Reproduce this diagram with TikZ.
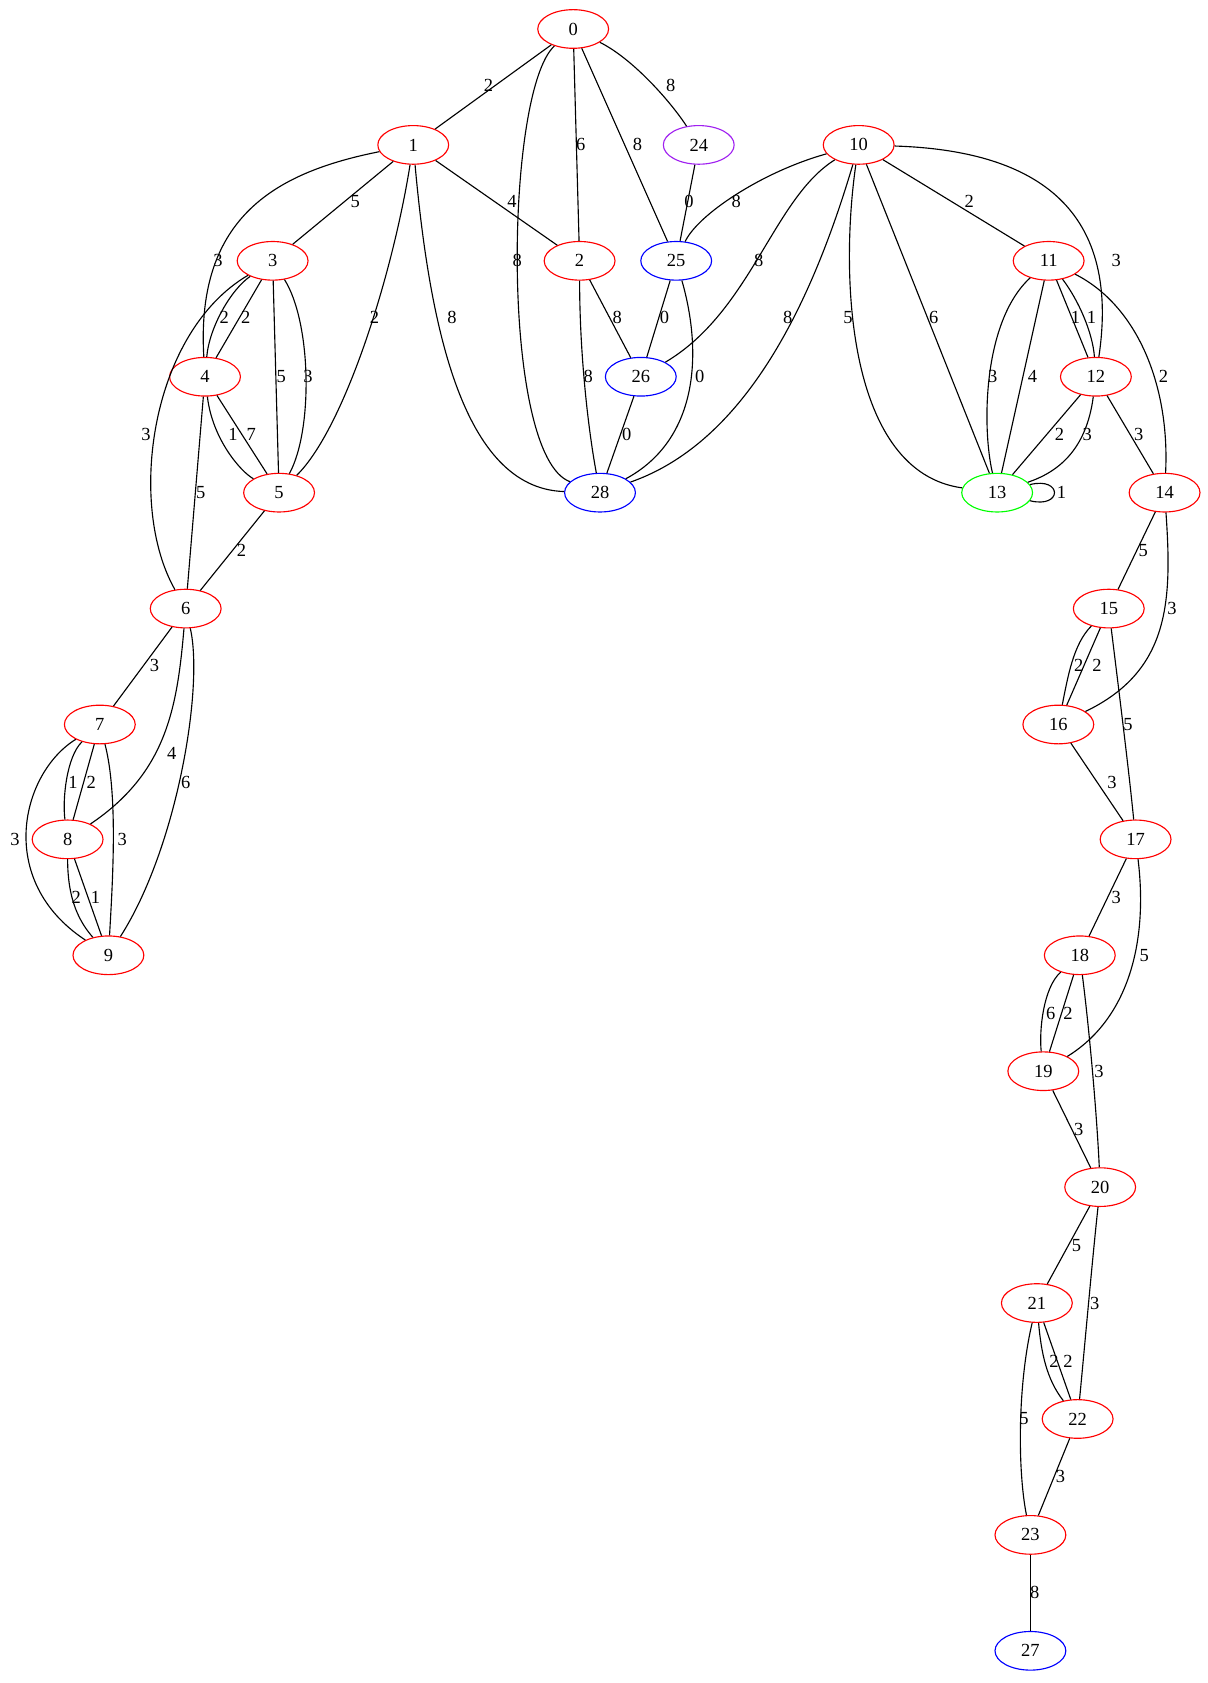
\documentclass[tikz,border=0pt]{standalone}
\usepackage{fontspec}
\setmainfont{Liberation Serif}
\usetikzlibrary{shapes.geometric}

\tikzset{
  gnode/.style={ellipse, draw=red, line width=0.6pt, minimum width=1.32cm, minimum height=0.72cm, inner sep=0pt, font=\fontsize{9.8}{11}\selectfont},
  elabel/.style={inner sep=0pt, font=\fontsize{9.8}{11}\selectfont},
  gedge/.style={line width=0.6pt}
}
\definecolor{gvpurple}{HTML}{A020F0}
\definecolor{gvgreen}{HTML}{00FF00}

\begin{document}
\begin{tikzpicture}[x=0.02cm, y=-0.02cm]
\useasboundingbox (0,0) rectangle (1125,1568);

% nodes
\node[gnode] (n0) at (534,27) {0};
\node[gnode] (n1) at (385,135) {1};
\node[gnode, draw=gvpurple] (n24) at (651,135) {24};
\node[gnode] (n10) at (800,135) {10};
\node[gnode] (n3) at (254,243) {3};
\node[gnode] (n2) at (540,243) {2};
\node[gnode, draw=blue] (n25) at (630,243) {25};
\node[gnode] (n11) at (977,243) {11};
\node[gnode] (n4) at (191,351) {4};
\node[gnode, draw=blue] (n26) at (597,351) {26};
\node[gnode] (n12) at (1021,351) {12};
\node[gnode] (n5) at (260,459) {5};
\node[gnode, draw=blue] (n28) at (559,459) {28};
\node[gnode, draw=gvgreen] (n13) at (929,459) {13};
\node[gnode] (n14) at (1085,459) {14};
\node[gnode] (n6) at (173,567) {6};
\node[gnode] (n15) at (1033,567) {15};
\node[gnode] (n7) at (93,675) {7};
\node[gnode] (n16) at (986,675) {16};
\node[gnode] (n8) at (63,782) {8};
\node[gnode] (n17) at (1058,782) {17};
\node[gnode] (n9) at (101,890) {9};
\node[gnode] (n18) at (1006,890) {18};
\node[gnode] (n19) at (972,998) {19};
\node[gnode] (n20) at (1025,1106) {20};
\node[gnode] (n21) at (966,1214) {21};
\node[gnode] (n22) at (1004,1322) {22};
\node[gnode] (n23) at (960,1430) {23};
\node[gnode, draw=blue] (n27) at (960,1538) {27};

% edges from 0 and 1
\draw[gedge] (n0) -- (n1) node[elabel] at (455,80) {2};
\draw[gedge] (n0) .. controls (470,85) and (466,425) .. (n28) node[elabel] at (482,243) {8};
\draw[gedge] (n0) -- (n2) node[elabel] at (541,135) {6};
\draw[gedge] (n0) -- (n25) node[elabel] at (594,135) {8};
\draw[gedge] (n0) .. controls (590,55) and (625,95) .. (n24) node[elabel] at (625,80) {8};
\draw[gedge] (n1) -- (n3) node[elabel] at (331,188) {5};
\draw[gedge] (n1) .. controls (260,160) and (182,200) .. (n4) node[elabel] at (203,243) {3};
\draw[gedge] (n1) -- (n2) node[elabel] at (477,188) {4};
\draw[gedge] (n1) .. controls (365,260) and (320,400) .. (n5) node[elabel] at (349,296) {2};
\draw[gedge] (n1) .. controls (400,300) and (430,455) .. (n28) node[elabel] at (421,296) {8};

% edges from 24, 10
\draw[gedge] (n24) -- (n25) node[elabel] at (642,188) {0};
\draw[gedge] (n10) .. controls (710,160) and (650,200) .. (n25) node[elabel] at (686,188) {8};
\draw[gedge] (n10) .. controls (720,185) and (700,290) .. (n26) node[elabel] at (707,243) {8};
\draw[gedge] (n10) .. controls (760,270) and (700,410) .. (n28) node[elabel] at (734,296) {8};
\draw[gedge] (n10) .. controls (782,260) and (790,440) .. (n13) node[elabel] at (790,296) {5};
\draw[gedge] (n10) -- (n13) node[elabel] at (870,296) {6};
\draw[gedge] (n10) -- (n11) node[elabel] at (903,188) {2};
\draw[gedge] (n10) .. controls (960,140) and (1045,190) .. (n12) node[elabel] at (1040,243) {3};

% edges from 3, 2, 25, 26
\draw[gedge] (n3) .. controls (215,270) and (195,305) .. (n4) node[elabel] at (209,296) {2};
\draw[gedge] (n3) -- (n4) node[elabel] at (229,296) {2};
\draw[gedge] (n3) -- (n5) node[elabel] at (262,351) {5};
\draw[gedge] (n3) .. controls (290,300) and (292,400) .. (n5) node[elabel] at (287,351) {3};
\draw[gedge] (n3) .. controls (140,310) and (118,470) .. (n6) node[elabel] at (136,405) {3};
\draw[gedge] (n2) -- (n26) node[elabel] at (575,296) {8};
\draw[gedge] (n2) .. controls (540,330) and (548,400) .. (n28) node[elabel] at (548,351) {8};
\draw[gedge] (n25) -- (n26) node[elabel] at (619,296) {0};
\draw[gedge] (n25) .. controls (655,330) and (650,410) .. (n28) node[elabel] at (652,351) {0};
\draw[gedge] (n26) -- (n28) node[elabel] at (584,405) {0};

% edges from 11, 12, 13, 4
\draw[gedge] (n11) .. controls (915,300) and (915,400) .. (n13) node[elabel] at (925,351) {3};
\draw[gedge] (n11) -- (n13) node[elabel] at (962,351) {4};
\draw[gedge] (n11) -- (n12) node[elabel] at (1002,296) {1};
\draw[gedge] (n11) .. controls (1005,280) and (1018,310) .. (n12) node[elabel] at (1017,296) {1};
\draw[gedge] (n11) .. controls (1060,285) and (1090,360) .. (n14) node[elabel] at (1084,351) {2};
\draw[gedge] (n4) .. controls (198,410) and (225,440) .. (n5) node[elabel] at (217,405) {1};
\draw[gedge] (n4) -- (n5) node[elabel] at (234,405) {7};
\draw[gedge] (n4) -- (n6) node[elabel] at (187,459) {5};
\draw[gedge] (n12) -- (n13) node[elabel] at (987,405) {2};
\draw[gedge] (n12) .. controls (1012,420) and (985,440) .. (n13) node[elabel] at (1013,405) {3};
\draw[gedge] (n12) -- (n14) node[elabel] at (1061,405) {3};
\draw[gedge] (n13) .. controls (990,444) and (990,474) .. (n13) node[elabel] at (989,459) {1};

% edges from 5, 14, 6, 15
\draw[gedge] (n5) -- (n6) node[elabel] at (225,513) {2};
\draw[gedge] (n14) -- (n15) node[elabel] at (1065,513) {5};
\draw[gedge] (n14) .. controls (1092,560) and (1090,625) .. (n16) node[elabel] at (1092,567) {3};
\draw[gedge] (n6) -- (n7) node[elabel] at (144,620) {3};
\draw[gedge] (n6) .. controls (165,660) and (155,720) .. (n8) node[elabel] at (160,702) {4};
\draw[gedge] (n6) .. controls (190,640) and (165,790) .. (n9) node[elabel] at (173,729) {6};
\draw[gedge] (n15) .. controls (1000,600) and (995,630) .. (n16) node[elabel] at (1005,620) {2};
\draw[gedge] (n15) -- (n16) node[elabel] at (1022,620) {2};
\draw[gedge] (n15) .. controls (1042,640) and (1052,720) .. (n17) node[elabel] at (1051,675) {5};

% edges from 7, 16, 8
\draw[gedge] (n7) .. controls (62,705) and (58,745) .. (n8) node[elabel] at (68,729) {1};
\draw[gedge] (n7) -- (n8) node[elabel] at (85,729) {2};
\draw[gedge] (n7) .. controls (20,720) and (-5,820) .. (n9) node[elabel] at (14,782) {3};
\draw[gedge] (n7) .. controls (110,740) and (105,820) .. (n9) node[elabel] at (114,782) {3};
\draw[gedge] (n16) -- (n17) node[elabel] at (1036,729) {3};
\draw[gedge] (n8) .. controls (63,840) and (75,860) .. (n9) node[elabel] at (71,836) {2};
\draw[gedge] (n8) -- (n9) node[elabel] at (89,836) {1};

% edges from 17 down to 27
\draw[gedge] (n17) -- (n18) node[elabel] at (1040,836) {3};
\draw[gedge] (n17) .. controls (1070,880) and (1050,950) .. (n19) node[elabel] at (1066,890) {5};
\draw[gedge] (n18) .. controls (972,920) and (968,960) .. (n19) node[elabel] at (979,944) {6};
\draw[gedge] (n18) -- (n19) node[elabel] at (995,944) {2};
\draw[gedge] (n18) .. controls (1015,960) and (1022,1040) .. (n20) node[elabel] at (1024,998) {3};
\draw[gedge] (n19) -- (n20) node[elabel] at (1005,1052) {3};
\draw[gedge] (n20) -- (n21) node[elabel] at (1003,1160) {5};
\draw[gedge] (n20) .. controls (1018,1170) and (1010,1260) .. (n22) node[elabel] at (1020,1214) {3};
\draw[gedge] (n21) .. controls (970,1260) and (975,1285) .. (n22) node[elabel] at (982,1268) {2};
\draw[gedge] (n21) -- (n22) node[elabel] at (995,1268) {2};
\draw[gedge] (n21) .. controls (948,1290) and (948,1370) .. (n23) node[elabel] at (954,1322) {5};
\draw[gedge] (n22) -- (n23) node[elabel] at (988,1376) {3};
\draw[gedge] (n23) -- (n27) node[elabel] at (964,1484) {8};
\end{tikzpicture}
\end{document}
